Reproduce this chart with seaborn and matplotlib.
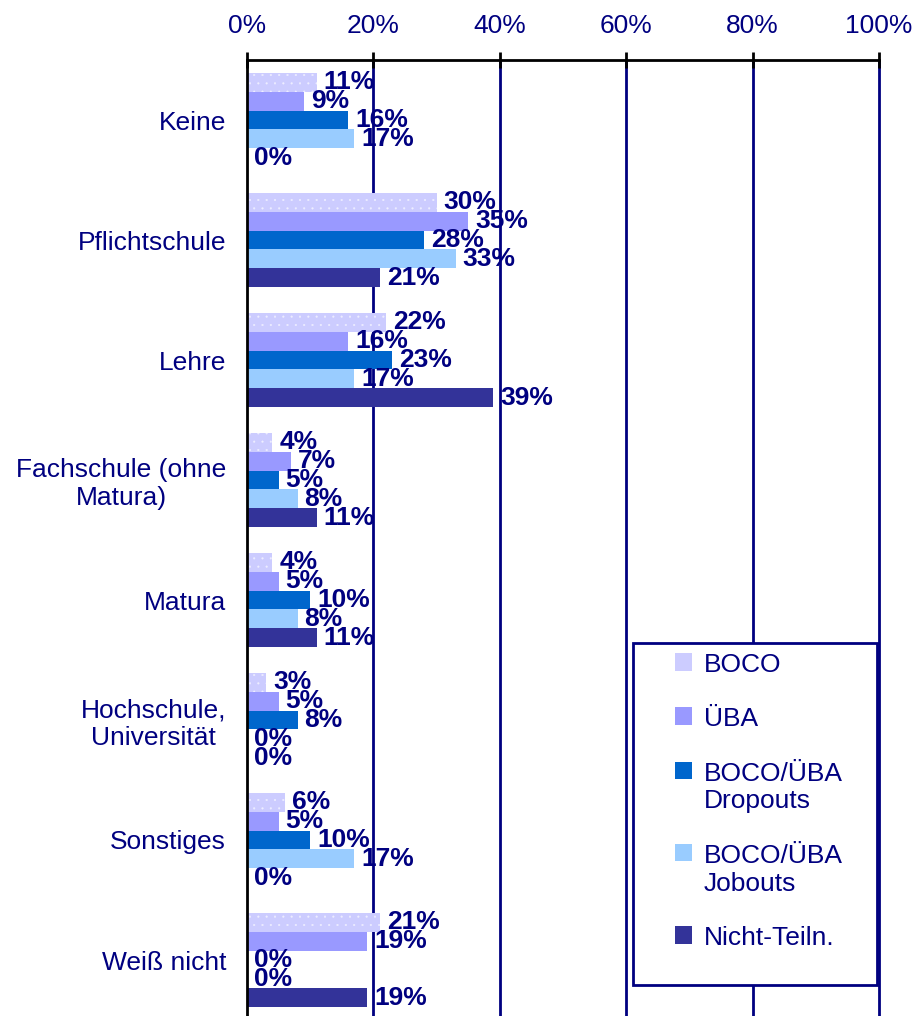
import matplotlib
matplotlib.use("Agg")
import matplotlib.pyplot as plt
from matplotlib.patches import Rectangle
import numpy as np
import pandas as pd
import seaborn as sns

# Data (percent)
categories = ["Keine", "Pflichtschule", "Lehre", "Fachschule (ohne\nMatura)",
              "Matura", "Hochschule,\nUniversität", "Sonstiges", "Weiß nicht"]
groups = ["BOCO", "ÜBA", "BOCO/ÜBA Dropouts", "BOCO/ÜBA Jobouts", "Nicht-Teiln."]
legend_labels = ["BOCO", "ÜBA", "BOCO/ÜBA\nDropouts", "BOCO/ÜBA\nJobouts", "Nicht-Teiln."]
boco = [11, 30, 22, 4, 4, 3, 6, 21]
uba = [9, 35, 16, 7, 5, 5, 5, 19]
dropouts = [16, 28, 23, 5, 10, 8, 10, 0]
jobouts = [17, 33, 17, 8, 8, 0, 17, 0]
nicht = [0, 21, 39, 11, 11, 0, 0, 19]
xticks = [0, 20, 40, 60, 80, 100]

colors = ["#CCCCFF", "#9999FF", "#0066CC", "#99CCFF", "#333399"]
navy = "#000080"

series = [boco, uba, dropouts, jobouts, nicht]
df = pd.DataFrame({
    "category": np.tile(categories, len(groups)),
    "group": np.repeat(groups, len(categories)),
    "value": np.concatenate(series),
})

sns.set_style("white")
plt.rcParams["font.family"] = ["Liberation Sans", "DejaVu Sans"]
plt.rcParams["hatch.linewidth"] = 0.3

fig = plt.figure(figsize=(9.15, 10.16), dpi=100)
ax = fig.add_axes([247 / 915, -4 / 1016, 632 / 915, 960 / 1016])

sns.barplot(data=df, y="category", x="value", hue="group", orient="h",
            palette=colors, saturation=1, width=0.79, ax=ax, legend=True,
            linewidth=0)

# dotted pattern on BOCO bars
for bar in ax.containers[0]:
    bar.set_hatch("..")
    bar.set_edgecolor("#EEEEFF")
    bar.set_linewidth(0)

for cont, vals in zip(ax.containers, series):
    ax.bar_label(cont, labels=[f"{v}%" for v in vals], padding=5,
                 fontsize=19, fontweight="bold", color=navy)

ax.set_xlim(0, 100)
ax.set_ylim(7.5, -0.5)
ax.set_xlabel("")
ax.set_ylabel("")

# x axis on top
ax.xaxis.tick_top()
ax.set_xticks(xticks)
ax.set_xticklabels([f"{t}%" for t in xticks])
ax.tick_params(axis="x", direction="inout", length=12, width=2, color="black",
               labelsize=19, labelcolor=navy, pad=10)
for t in xticks[1:]:
    ax.axvline(t, color=navy, lw=2, zorder=0, clip_on=False)

# category labels between boundary ticks
ax.set_yticks(np.arange(-0.5, 8.5, 1))
ax.set_yticklabels([])
ax.set_yticks(np.arange(len(categories)), minor=True)
ax.set_yticklabels(categories, minor=True, multialignment="center")
ax.tick_params(axis="y", which="major", direction="out", length=7, width=2, color="black")
ax.tick_params(axis="y", which="minor", length=0, labelsize=19, labelcolor=navy, pad=15)

for side in ["bottom", "right"]:
    ax.spines[side].set_visible(False)
for side in ["top", "left"]:
    ax.spines[side].set_color("black")
    ax.spines[side].set_linewidth(2)

# legend box
ax.get_legend().remove()
box = Rectangle((633 / 915, 1 - 985 / 1016), 244 / 915, 342 / 1016,
                transform=fig.transFigure, facecolor="white", edgecolor=navy,
                lw=2, clip_on=False, zorder=4)
ax.add_patch(box)
handles, _ = ax.get_legend_handles_labels()
leg = ax.legend(handles, legend_labels, loc="upper left",
                bbox_to_anchor=(675 / 915, 1 - 653 / 1016),
                bbox_transform=fig.transFigure, frameon=False, borderpad=0,
                borderaxespad=0, fontsize=19, labelcolor=navy,
                handlelength=0.65, handleheight=0.65, handletextpad=0.45,
                labelspacing=1.15)
leg.set_zorder(6)
# put the marker next to the first line of two-line labels
for col in leg._legend_handle_box.get_children():
    for row in col.get_children():
        row.align = "top"

fig.savefig("out.png", dpi=100)
